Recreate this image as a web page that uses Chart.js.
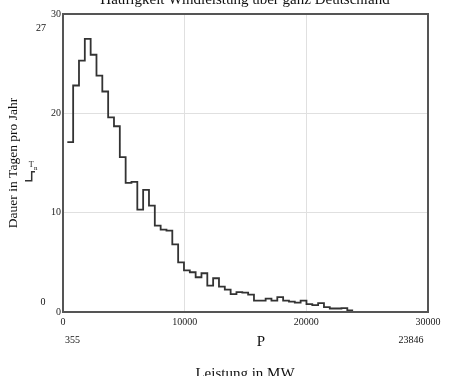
<!DOCTYPE html>
<html>
<head>
<meta charset="utf-8">
<script src="https://cdn.jsdelivr.net/npm/chart.js@4/dist/chart.umd.min.js"></script>
<style>
  body { margin: 0; background: #fff; }
  canvas { display: block; }
</style>
</head>
<body>
<canvas id="wind-Chart" width="455" height="376"></canvas>
<script>
// Klassengrenzen (Beginn jeder Klasse in MW), letzte Grenze = 23846
var binStarts = [355, 834, 1314, 1793, 2273, 2752, 3231, 3711, 4190, 4670,
                 5149, 5628, 6108, 6587, 7067, 7546, 8026, 8505, 8984, 9464,
                 9943, 10423, 10902, 11381, 11861, 12340, 12820, 13299, 13778, 14258,
                 14737, 15217, 15696, 16176, 16655, 17134, 17614, 18093, 18573, 19052,
                 19531, 20011, 20490, 20970, 21449, 21928, 22408, 22887, 23367];
var binEnd = 23846;
// Dauer in Tagen pro Jahr
var tage = [17.1, 22.8, 25.3, 27.5, 25.9, 23.8, 22.2, 19.6, 18.7, 15.6,
            13.0, 13.1, 10.3, 12.3, 10.7, 8.7, 8.3, 8.2, 6.8, 5.0,
            4.2, 4.0, 3.5, 3.9, 2.65, 3.4, 2.55, 2.25, 1.8, 2.0,
            1.95, 1.75, 1.15, 1.15, 1.35, 1.15, 1.5, 1.15, 1.05, 0.95,
            1.15, 0.8, 0.7, 0.9, 0.5, 0.35, 0.35, 0.4, 0.15];
var xTicks = [0, 10000, 20000, 30000];
var yTicks = [0, 10, 20, 30];

var punkte = binStarts.map(function (x, i) { return {x: x, y: tage[i]}; });
punkte.push({x: binEnd, y: tage[tage.length - 1]});

var serif = 'Liberation Serif, Times New Roman, serif';

var extras = {
    id: 'extras',
    afterDraw: function (chart) {
        var c = chart.ctx, a = chart.chartArea;
        c.save();
        // Rahmen
        c.strokeStyle = '#555';
        c.lineWidth = 2;
        c.strokeRect(a.left, a.top, a.right - a.left, a.bottom - a.top);

        c.fillStyle = '#111';
        c.textAlign = 'center';
        c.textBaseline = 'alphabetic';
        c.font = '15px ' + serif;
        c.fillText('Häufigkeit Windleistung über ganz Deutschland', 245, 3.5);
        c.fillText('Leistung in MW', 245, 378);
        c.fillText('P', 261, 346);

        c.font = '10px ' + serif;
        c.fillText('27', 41, 31);
        c.fillText('0', 43, 305);
        c.fillText('355', 72.5, 343);
        c.fillText('23846', 411, 343);

        // y-Achsentitel
        c.save();
        c.translate(16.5, 163);
        c.rotate(-Math.PI / 2);
        c.font = '13.5px ' + serif;
        c.fillText('Dauer in Tagen pro Jahr', 0, 0);
        c.restore();

        // Legende T_n
        c.font = '8px ' + serif;
        c.fillText('T', 31.3, 166.5);
        c.textAlign = 'left';
        c.font = '7px ' + serif;
        c.fillText('n', 34, 169.5);
        c.strokeStyle = '#333';
        c.lineWidth = 1.5;
        c.beginPath();
        c.moveTo(25, 180.7);
        c.lineTo(31.7, 180.7);
        c.lineTo(31.7, 171.7);
        c.lineTo(35, 171.7);
        c.stroke();
        c.restore();
    }
};

var ctx = document.getElementById('wind-Chart').getContext('2d');
var chart = new Chart(ctx, {
    type: 'line',
    data: {
        datasets: [{
            label: 'Tn',
            data: punkte,
            borderColor: '#333',
            borderWidth: 1.8,
            pointRadius: 0,
            stepped: 'before',
            fill: false
        }]
    },
    options: {
        responsive: false,
        animation: false,
        devicePixelRatio: 1,
        layout: {padding: {top: 14, right: 27, left: 0, bottom: 0}},
        plugins: {legend: {display: false}, tooltip: {enabled: false}},
        scales: {
            x: {
                type: 'linear',
                min: xTicks[0],
                max: xTicks[xTicks.length - 1],
                afterBuildTicks: function (s) { s.ticks = xTicks.map(function (v) { return {value: v}; }); },
                afterFit: function (s) { s.height = 64; },
                ticks: {
                    font: {family: serif, size: 10},
                    color: '#222',
                    padding: 4,
                    maxRotation: 0,
                    callback: function (v) { return String(v); }
                },
                grid: {color: '#e0e0e0', drawTicks: false},
                border: {display: false}
            },
            y: {
                min: yTicks[0],
                max: yTicks[yTicks.length - 1],
                afterBuildTicks: function (s) { s.ticks = yTicks.map(function (v) { return {value: v}; }); },
                afterFit: function (s) { s.width = 63; },
                ticks: {
                    font: {family: serif, size: 10},
                    color: '#222',
                    padding: 2,
                    callback: function (v) { return String(v); }
                },
                grid: {color: '#e0e0e0', drawTicks: false},
                border: {display: false}
            }
        }
    },
    plugins: [extras]
});
</script>
</body>
</html>
